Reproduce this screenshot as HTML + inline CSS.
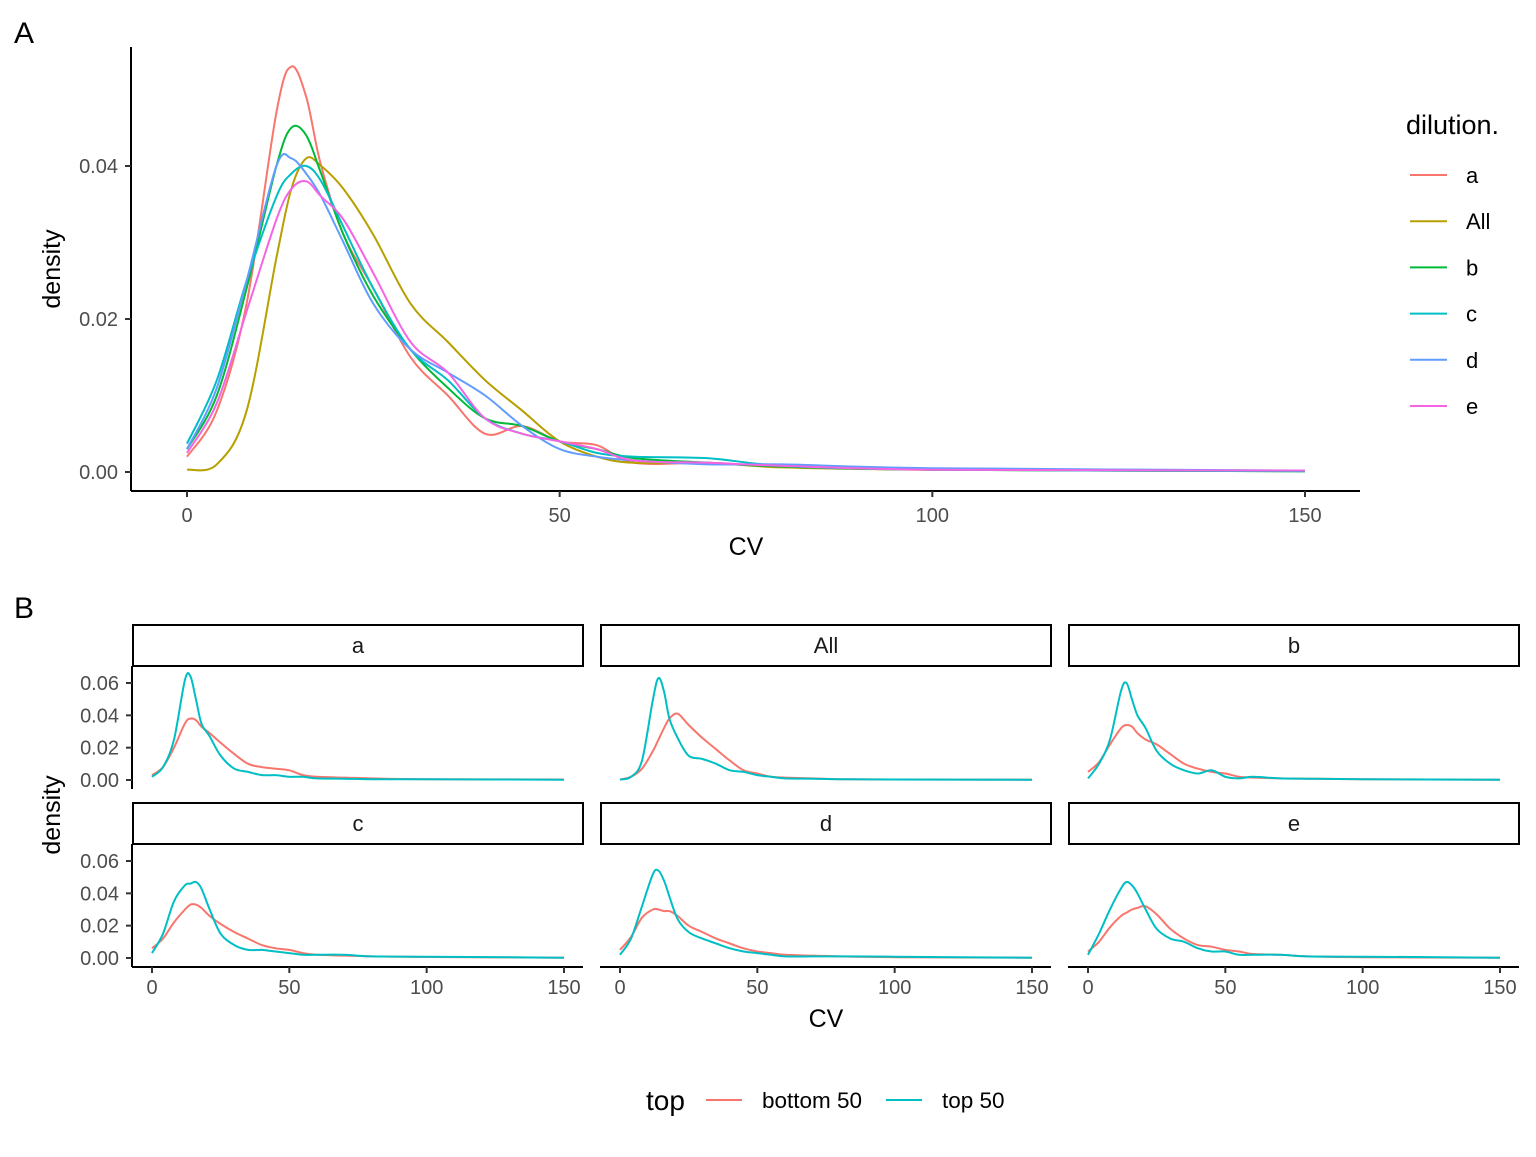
<!DOCTYPE html>
<html><head><meta charset="utf-8"><style>
body{margin:0;background:#fff}
svg{font-family:"Liberation Sans",Arial,sans-serif}
</style></head><body>
<svg id="chart" width="1536" height="1152" xmlns="http://www.w3.org/2000/svg"></svg>
<script>
const xGrid=[0,4,8,12,14,16,18,21,25,30,35,40,45,50,55,60,70,80,100,150];
const seriesNames=["a","All","b","c","d","e"];
const seriesColors=["#F8766D","#B79F00","#00BA38","#00BFC4","#619CFF","#F564E3"];
const densA=[.002,.008,.022,.047,.053,.049,.040,.031,.024,.015,.010,.005,.006,.004,.0035,.0012,.0012,.0007,.0003,.0002];
const densAll=[.0003,.001,.008,.028,.037,.041,.040,.037,.031,.022,.017,.012,.008,.004,.002,.0012,.0012,.0006,.0003,.0001];
const densB=[.003,.010,.024,.040,.045,.044,.039,.031,.023,.016,.011,.007,.006,.004,.003,.0018,.0012,.0007,.0003,.0001];
const densC=[.0037,.012,.025,.036,.039,.040,.038,.032,.024,.016,.012,.007,.005,.004,.0025,.002,.0018,.0008,.0003,.0001];
const densD=[.003,.011,.025,.040,.041,.039,.036,.030,.022,.016,.013,.010,.006,.003,.002,.0015,.001,.001,.0005,.0002];
const densE=[.0025,.009,.021,.033,.037,.038,.036,.033,.026,.017,.013,.007,.005,.004,.003,.0015,.0012,.0008,.0003,.0002];
const bottomA=[.003,.008,.020,.035,.038,.037,.033,.029,.023,.016,.010,.008,.007,.006,.003,.002,.0015,.001,.0005,.0003];
const topA=[.002,.008,.025,.062,.064,.050,.035,.027,.015,.007,.005,.003,.003,.002,.002,.001,.0008,.0005,.0005,.0001];
const bottomAll=[.0003,.002,.007,.018,.025,.032,.038,.041,.034,.026,.019,.012,.006,.004,.002,.0015,.001,.0005,.0003,.0002];
const topAll=[.0003,.002,.012,.050,.063,.055,.038,.026,.015,.013,.010,.006,.005,.003,.002,.001,.0008,.0005,.0003,.0001];
const bottomB=[.005,.011,.022,.032,.034,.033,.029,.025,.022,.016,.010,.007,.005,.004,.002,.0015,.001,.0008,.0005,.0002];
const topB=[.001,.010,.025,.055,.060,.050,.040,.032,.018,.010,.006,.004,.006,.002,.001,.002,.001,.0008,.0005,.0002];
const bottomC=[.006,.012,.022,.030,.033,.033,.031,.026,.021,.016,.012,.008,.006,.005,.003,.002,.0015,.001,.0006,.0002];
const topC=[.003,.015,.035,.045,.046,.047,.043,.030,.015,.008,.005,.005,.004,.003,.002,.002,.002,.001,.0008,.0002];
const bottomD=[.005,.013,.025,.030,.030,.029,.029,.026,.020,.016,.012,.009,.006,.004,.003,.002,.0015,.001,.0005,.0002];
const topD=[.002,.012,.032,.052,.054,.048,.038,.024,.016,.012,.009,.006,.004,.003,.002,.001,.001,.001,.0008,.0001];
const bottomE=[.004,.010,.019,.026,.028,.030,.031,.032,.027,.018,.012,.008,.007,.005,.004,.0025,.002,.001,.0005,.0002];
const topE=[.002,.015,.030,.043,.047,.045,.040,.030,.018,.012,.010,.006,.004,.004,.002,.002,.002,.001,.0008,.0002];
const xTicks=[0,50,100,150];
const yTicksA=[0,0.02,0.04];
const yTicksB=[0,0.02,0.04,0.06];

const svg=document.getElementById('chart');
const NS="http://www.w3.org/2000/svg";
function el(tag,attrs,parent){const e=document.createElementNS(NS,tag);for(const k in attrs)e.setAttribute(k,attrs[k]);(parent||svg).appendChild(e);return e;}
function txt(s,x,y,size,anchor,fill,parent){const t=el('text',{x:x,y:y,'font-size':size,'text-anchor':anchor||'start',fill:fill||'#000'},parent);t.textContent=s;return t;}
function smooth(pts){let d="M"+pts[0][0].toFixed(1)+","+pts[0][1].toFixed(1);
 for(let i=0;i<pts.length-1;i++){const p0=pts[Math.max(0,i-1)],p1=pts[i],p2=pts[i+1],p3=pts[Math.min(pts.length-1,i+2)];
 const c1=[p1[0]+(p2[0]-p0[0])/6,p1[1]+(p2[1]-p0[1])/6],c2=[p2[0]-(p3[0]-p1[0])/6,p2[1]-(p3[1]-p1[1])/6];
 d+=" C"+c1[0].toFixed(1)+","+c1[1].toFixed(1)+" "+c2[0].toFixed(1)+","+c2[1].toFixed(1)+" "+p2[0].toFixed(1)+","+p2[1].toFixed(1);}
 return d;}
function curve(vals,xs,ys,color,name,parent){const pts=xGrid.map((x,i)=>[xs(x),ys(vals[i])]);
 const p=el('path',{d:smooth(pts),fill:'none',stroke:color,'stroke-width':2},parent);
 
 }

// Panel A
txt("A",14,43,30,'start');
const gA=el('g',{});


const xA=v=>187+v*(1305-187)/150, yA=v=>472-v*(472-166)/0.04;
const seriesA=[densA,densAll,densB,densC,densD,densE];
seriesA.forEach((s,i)=>curve(s,xA,yA,seriesColors[i],'density-line-'+seriesNames[i].toLowerCase(),gA));
el('line',{x1:131,y1:47,x2:131,y2:491,stroke:'#000','stroke-width':2},gA);
el('line',{x1:131,y1:491,x2:1360,y2:491,stroke:'#000','stroke-width':2},gA);
xTicks.forEach(t=>{el('line',{x1:xA(t),y1:491,x2:xA(t),y2:497,stroke:'#333','stroke-width':2},gA);txt(String(t),xA(t),522,20,'middle','#4D4D4D',gA);});
yTicksA.forEach(t=>{el('line',{x1:125,y1:yA(t),x2:131,y2:yA(t),stroke:'#333','stroke-width':2},gA);txt(t.toFixed(2),118,yA(t)+7,20,'end','#4D4D4D',gA);});
txt("CV",746,555,25,'middle','#000',gA);
const ytA=txt("density",0,0,25,'middle','#000',gA);ytA.setAttribute('transform','translate(60,269) rotate(-90)');
// legend A
const lg=el('g',{});


txt("dilution.",1406,134,27,'start','#000',lg);
seriesNames.forEach((n,i)=>{const y=175+i*46.2;
 const g=el('g',{},lg);
 
 
 el('line',{x1:1410,y1:y,x2:1447,y2:y,stroke:seriesColors[i],'stroke-width':2},g);
 txt(n,1466,y+8,22,'start','#000',g);});

// Panel B
txt("B",14,618,30,'start');
const facetNames=["a","All","b","c","d","e"];
const facetBottom=[bottomA,bottomAll,bottomB,bottomC,bottomD,bottomE];
const facetTop=[topA,topAll,topB,topC,topD,topE];
const colX0=[132,600,1068];
facetNames.forEach((n,i)=>{const col=i%3,row=Math.floor(i/3);
 const left=colX0[col],right=left+451;
 const stripTop=row?802:624;
 const zero=row?958:780, base=row?967:789;
 const g=el('g',{});
 
 
 const xs=v=>left+20+v*412/150, ys=v=>zero-v*97/0.06;
 el('rect',{x:left+1,y:stripTop+1,width:450,height:41,fill:'#fff',stroke:'#000','stroke-width':2},g);
 txt(n,left+226,stripTop+29,22,'middle','#1A1A1A',g);
 curve(facetBottom[i],xs,ys,'#F8766D','bottom50-line-'+n.toLowerCase(),g);
 curve(facetTop[i],xs,ys,'#00BFC4','top50-line-'+n.toLowerCase(),g);
 if(col===0){el('line',{x1:left,y1:stripTop+42,x2:left,y2:base,stroke:'#000','stroke-width':2},g);
  yTicksB.forEach(t=>{el('line',{x1:left-6,y1:ys(t),x2:left,y2:ys(t),stroke:'#333','stroke-width':2},g);txt(t.toFixed(2),left-13,ys(t)+7,20,'end','#4D4D4D',g);});}
 if(row===1){el('line',{x1:left,y1:base,x2:right,y2:base,stroke:'#000','stroke-width':2},g);
  xTicks.forEach(t=>{el('line',{x1:xs(t),y1:base,x2:xs(t),y2:base+6,stroke:'#333','stroke-width':2},g);txt(String(t),xs(t),994,20,'middle','#4D4D4D',g);});}
});
txt("CV",826,1027,25,'middle');
const ytB=txt("density",0,0,25,'middle');ytB.setAttribute('transform','translate(60,815) rotate(-90)');
// legend B
const lb=el('g',{});


txt("top",646,1110,28,'start','#000',lb);
const lb1=el('g',{},lb);


el('line',{x1:706,y1:1100,x2:742,y2:1100,stroke:'#F8766D','stroke-width':2},lb1);
txt("bottom 50",762,1108,22.5,'start','#000',lb1);
const lb2=el('g',{},lb);


el('line',{x1:886,y1:1100,x2:922,y2:1100,stroke:'#00BFC4','stroke-width':2},lb2);
txt("top 50",942,1108,22.5,'start','#000',lb2);
</script>
</body></html>
